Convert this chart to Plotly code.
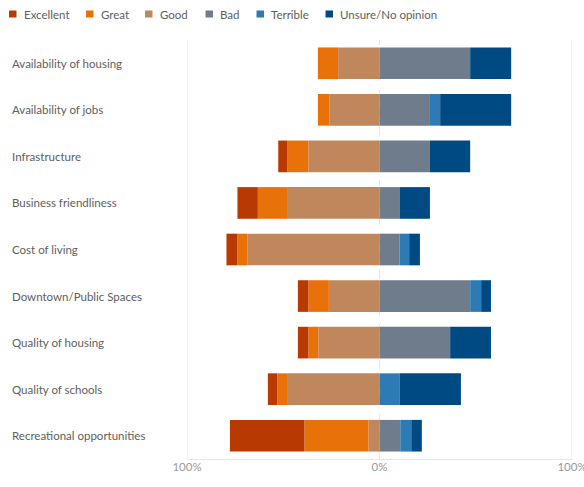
import plotly.graph_objects as go

# Survey topics, top to bottom
categories = [
    "Availability of housing",
    "Availability of jobs",
    "Infrastructure",
    "Business friendliness",
    "Cost of living",
    "Downtown/Public Spaces",
    "Quality of housing",
    "Quality of schools",
    "Recreational opportunities",
]

# Share of responses (%) per rating
excellent = [0.0, 0.0, 4.8, 10.6, 5.6, 5.4, 5.4, 4.9, 38.7]
great = [10.5, 5.9, 10.8, 15.6, 5.2, 10.7, 5.2, 5.5, 33.3]
good = [21.5, 26.1, 37.0, 47.6, 68.7, 26.3, 31.8, 47.6, 5.7]
bad = [47.1, 26.2, 26.2, 10.4, 10.4, 47.1, 36.7, 0.0, 10.8]
terrible = [0.0, 5.3, 0.0, 0.0, 5.0, 5.7, 0.0, 10.4, 5.7]
unsure = [21.3, 36.9, 20.9, 15.8, 5.6, 5.1, 21.2, 31.9, 5.5]

tick_values = [-100, 0, 100]
tick_labels = ["100%", "0%", "100%"]

colors = {
    "Excellent": "#B83A00",
    "Great": "#E9710A",
    "Good": "#C1875C",
    "Bad": "#6F7C8C",
    "Terrible": "#2C7BB4",
    "Unsure/No opinion": "#004A83",
}

FONT = "Segoe UI, Lato, Noto Sans, sans-serif"
W, H = 584, 487
M_L, M_R, M_T, M_B = 187, 12, 40, 28
PW, PH = W - M_L - M_R, H - M_T - M_B


def px_x(px):
    return (px - M_L) / PW


def px_y(py):
    return (H - M_B - py) / PH


fig = go.Figure()

# Positive ratings extend left of zero (Good nearest the centre line)
for name, vals in [("Good", good), ("Great", great), ("Excellent", excellent)]:
    fig.add_trace(go.Bar(
        y=categories, x=[-v for v in vals], orientation="h", name=name,
        marker=dict(color=colors[name], line=dict(width=0)),
        showlegend=False,
        hovertemplate="%{y}<br>" + name + ": %{customdata:.1f}%<extra></extra>",
        customdata=vals,
    ))

# Negative ratings and no opinion extend to the right
for name, vals in [("Bad", bad), ("Terrible", terrible), ("Unsure/No opinion", unsure)]:
    fig.add_trace(go.Bar(
        y=categories, x=vals, orientation="h", name=name,
        marker=dict(color=colors[name], line=dict(width=0)),
        showlegend=False,
        hovertemplate="%{y}<br>" + name + ": %{x:.1f}%<extra></extra>",
    ))

shapes = []
# Frame lines at +/-100% and the dashed centre line
for xv, dash in [(-100, "solid"), (100, "solid"), (0, "dash")]:
    shapes.append(dict(type="line", xref="x", yref="paper", x0=xv, x1=xv,
                       y0=0, y1=1, line=dict(color="#E6E6E6", width=1, dash=dash),
                       layer="below"))

annotations = []
# Category labels, left aligned at the page edge
for cat in categories:
    annotations.append(dict(
        x=px_x(10), y=cat, xref="paper", yref="y", text=cat, showarrow=False,
        xanchor="left", yanchor="middle",
        font=dict(family=FONT, size=11.5, color="#605E5C"),
    ))

# Legend row with small square swatches
legend_names = ["Excellent", "Great", "Good", "Bad", "Terrible", "Unsure/No opinion"]
legend_x = [9, 86, 145, 205.5, 256.5, 325.5]
for name, lx in zip(legend_names, legend_x):
    shapes.append(dict(type="rect", xref="paper", yref="paper",
                       x0=px_x(lx), x1=px_x(lx + 7.5), y0=px_y(17.5), y1=px_y(10.5),
                       fillcolor=colors[name], line=dict(width=0)))
    annotations.append(dict(
        x=px_x(lx + 12.5), y=px_y(14), xref="paper", yref="paper", text=name,
        showarrow=False, xanchor="left", yanchor="middle",
        font=dict(family=FONT, size=11.5, color="#605E5C"),
    ))

fig.update_layout(
    width=W, height=H,
    margin=dict(l=M_L, r=M_R, t=M_T, b=M_B, pad=0, autoexpand=False),
    barmode="relative", bargap=0.32,
    plot_bgcolor="white", paper_bgcolor="white",
    shapes=shapes, annotations=annotations,
    showlegend=False,
    font=dict(family=FONT, size=11, color="#605E5C"),
)
fig.update_xaxes(
    range=[-100, 100], tickvals=tick_values, ticktext=tick_labels,
    showgrid=False, zeroline=False, showline=True, linecolor="#E6E6E6",
    ticks="", ticklabeloverflow="allow", ticklabelstandoff=-3, automargin=False,
    tickfont=dict(family=FONT, size=11.5, color="#999999"),
    fixedrange=True,
)
fig.update_yaxes(
    categoryorder="array", categoryarray=categories, autorange="reversed",
    showticklabels=False, showgrid=False, zeroline=False, fixedrange=True,
    automargin=False,
)

fig.write_html("out.html")
